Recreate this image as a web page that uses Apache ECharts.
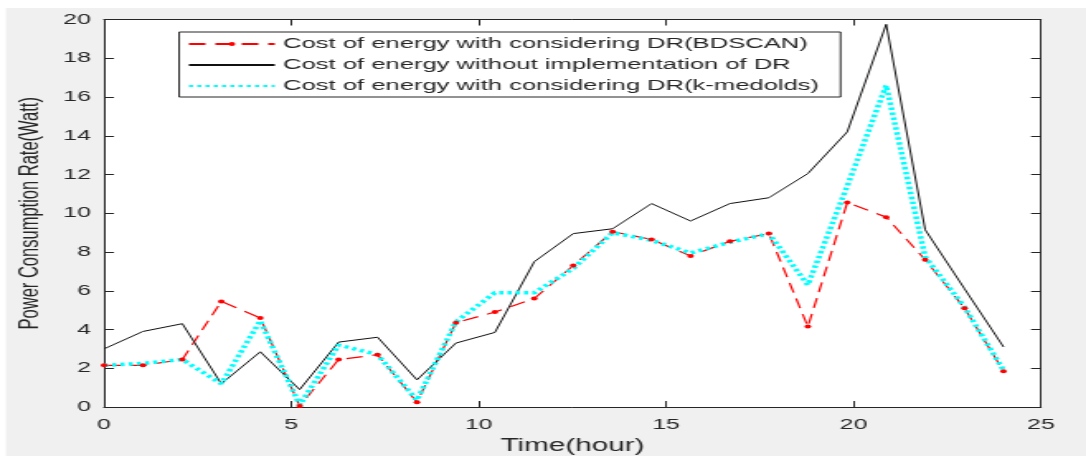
<!DOCTYPE html>
<html>
<head>
<meta charset="utf-8">
<script src="https://cdn.jsdelivr.net/npm/echarts@6/dist/echarts.min.js"></script>
<style>
  html, body { margin: 0; padding: 0; background: #fff; }
  #wrap { width: 1086px; height: 456px; overflow: hidden; position: relative; background: #fff; }
  /* the source figure is a MATLAB plot stretched sideways, so draw narrow and stretch */
  #main { width: 658px; height: 456px; transform: scaleX(1.6505); transform-origin: 0 0; }
</style>
</head>
<body>
<div id="wrap"><div id="main"></div></div>
<script>
// time points (hour)
const hours = [0, 1.04, 2.09, 3.13, 4.17, 5.22, 6.26, 7.30, 8.35, 9.39, 10.43, 11.48,
  12.52, 13.57, 14.61, 15.65, 16.70, 17.74, 18.78, 19.83, 20.87, 21.91, 22.96, 24.0];

// Cost of energy with considering DR(BDSCAN)
const bdscan = [2.15, 2.15, 2.45, 5.45, 4.6, 0.05, 2.45, 2.7, 0.25, 4.35, 4.9, 5.6,
  7.3, 9.05, 8.65, 7.8, 8.55, 8.95, 4.15, 10.55, 9.8, 7.6, 5.1, 1.85];

// Cost of energy without implementation of DR
const noDR = [3.0, 3.9, 4.3, 1.2, 2.85, 0.9, 3.35, 3.6, 1.4, 3.3, 3.85, 7.5,
  8.95, 9.2, 10.5, 9.6, 10.5, 10.8, 12.05, 14.2, 19.75, 9.15, 6.1, 3.1];

// Cost of energy with considering DR(k-medoids)
const kmedoids = [2.15, 2.25, 2.45, 1.2, 4.45, 0.1, 3.2, 2.7, 0.35, 4.4, 5.9, 5.9,
  7.15, 9.0, 8.6, 7.95, 8.5, 8.95, 6.3, 11.4, 16.6, 7.75, 5.15, 1.9];

// legend text as printed in the figure
const names = [
  'Cost of energy with considering DR(BDSCAN)',
  'Cost of energy without implementation of DR',
  'Cost of energy with considering DR(k-medolds)'
];

function pairs(ys) {
  return ys.map((y, i) => [hours[i], y]);
}

const ink = '#262626';
const font = 'Liberation Sans, Arial, sans-serif';
const noMarker = { color: 'transparent', borderColor: 'transparent', borderWidth: 0 };

const axisLine = { show: true, onZero: false, lineStyle: { color: ink, width: 1 } };
const axisTick = { show: true, inside: true, length: 6, lineStyle: { color: ink, width: 1 } };

let myChart = echarts.init(document.getElementById('main'));
myChart.setOption({
  animation: false,
  backgroundColor: 'transparent',
  graphic: [
    {
      type: 'rect', z: -100, silent: true,
      shape: { x: 3.6, y: 8, width: 700, height: 460 },
      style: { fill: '#f0f0f0' }
    }
  ],
  grid: {
    left: 63, right: 27.3, top: 19.5, bottom: 49,
    outerBoundsMode: 'none',
    show: true, backgroundColor: '#fff', borderWidth: 0
  },
  legend: {
    orient: 'vertical',
    left: 108.5,
    top: 32,
    data: [
      { name: names[0], itemStyle: { color: '#ff0000', borderWidth: 0 } },
      { name: names[1], itemStyle: noMarker },
      { name: names[2], itemStyle: noMarker }
    ],
    padding: [4, 13, 3, 5],
    itemGap: 5,
    itemWidth: 52,
    itemHeight: 5,
    backgroundColor: '#fff',
    borderColor: ink,
    borderWidth: 1,
    borderRadius: 0,
    textStyle: { fontSize: 15.5, color: ink, fontFamily: font, lineHeight: 14 }
  },
  xAxis: [
    {
      type: 'value', min: 0, max: 25, interval: 5, position: 'bottom',
      axisLine: axisLine, axisTick: axisTick, splitLine: { show: false },
      axisLabel: { fontSize: 15, color: ink, fontFamily: font, margin: 10 },
      name: 'Time(hour)', nameLocation: 'middle', nameGap: 29,
      nameTextStyle: { fontSize: 18, color: ink, fontFamily: font }
    },
    {
      type: 'value', min: 0, max: 25, interval: 5, position: 'top',
      axisLine: axisLine, axisTick: axisTick, splitLine: { show: false },
      axisLabel: { show: false }
    }
  ],
  yAxis: [
    {
      type: 'value', min: 0, max: 20, interval: 2, position: 'left',
      axisLine: axisLine, axisTick: axisTick, splitLine: { show: false },
      axisLabel: { fontSize: 15, color: ink, fontFamily: font, margin: 8 },
      name: 'Power Consumption Rate(Watt)', nameLocation: 'middle', nameGap: 35,
      nameRotate: 90,
      nameTextStyle: { fontSize: 16.5, color: ink, fontFamily: font }
    },
    {
      type: 'value', min: 0, max: 20, interval: 2, position: 'right',
      axisLine: axisLine, axisTick: axisTick, splitLine: { show: false },
      axisLabel: { show: false }
    }
  ],
  series: [
    {
      name: names[0],
      type: 'line',
      data: pairs(bdscan),
      symbol: 'circle',
      symbolSize: 4,
      itemStyle: { color: '#ff0000', borderWidth: 0 },
      lineStyle: { color: '#ff0000', width: 1.2, type: [10, 6] }
    },
    {
      name: names[1],
      type: 'line',
      data: pairs(noDR),
      symbol: 'none',
      itemStyle: { color: '#111111' },
      lineStyle: { color: '#111111', width: 1 }
    },
    {
      name: names[2],
      type: 'line',
      data: pairs(kmedoids),
      symbol: 'none',
      itemStyle: { color: '#00ffff' },
      lineStyle: { color: '#00ffff', width: 3.5, type: [2.5, 2.5] }
    }
  ]
});
</script>
</body>
</html>
